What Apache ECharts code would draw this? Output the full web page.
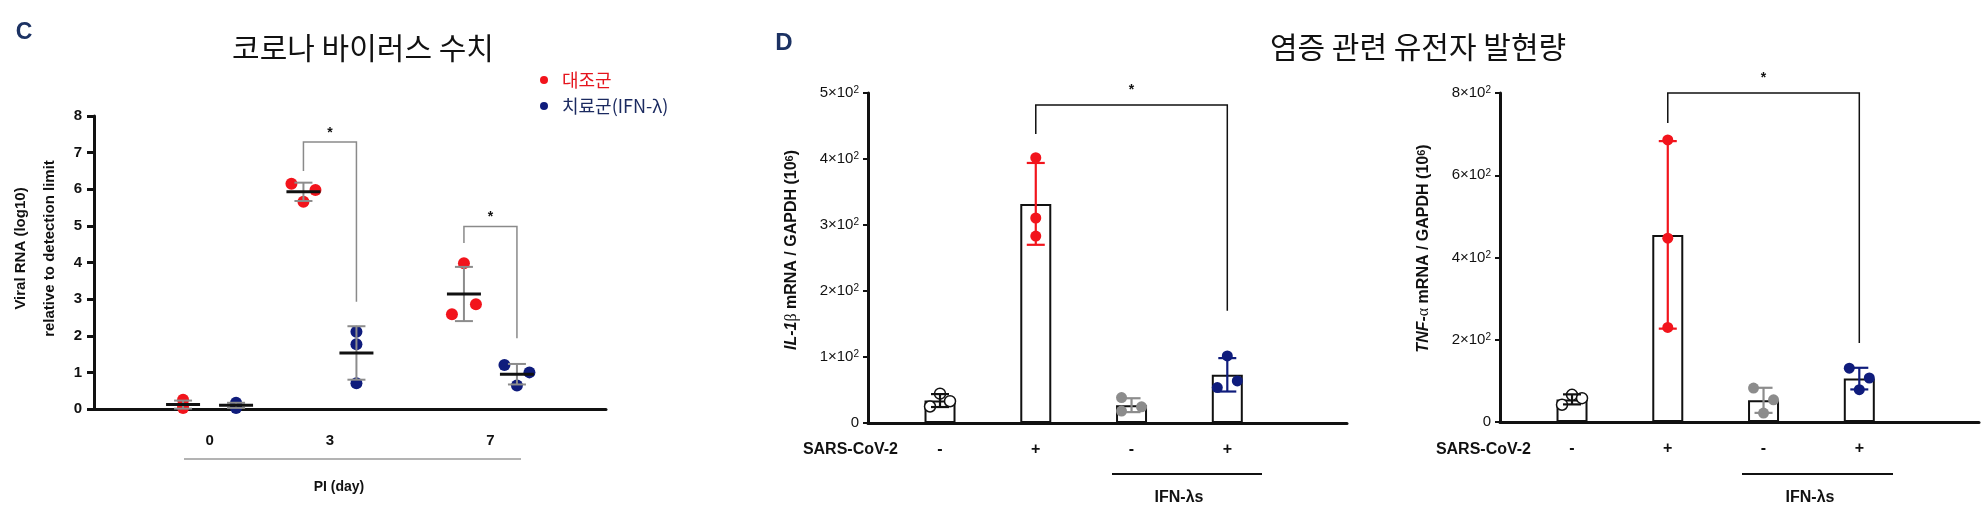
<!DOCTYPE html>
<html><head><meta charset="utf-8">
<script src="https://cdn.jsdelivr.net/npm/echarts@6/dist/echarts.min.js"></script>
<style>html,body{margin:0;padding:0;background:#fff}#chart{width:1986px;height:517px}</style>
</head><body><div id="chart"></div>
<script>
// ================= DATA =================
// Panel C: viral RNA (log10) by day post infection
const cDays = [0, 3, 7];
const cDayLabels = ['0', '3', '7'];
const ctrlName = '대조군';
const trtName = '치료군(IFN-λ)';
const ctrlPoints = [[0.25, 0.10, 0.03], [6.15, 5.66, 5.98], [2.59, 3.98, 2.86]];
const ctrlMean = [0.12, 5.93, 3.14];
const ctrlSD = [0.11, 0.25, 0.74];
const trtPoints = [[0.17, 0.10, 0.03], [2.11, 1.77, 0.70], [1.20, 0.64, 1.00]];
const trtMean = [0.10, 1.53, 0.95];
const trtSD = [0.07, 0.73, 0.28];
// significance brackets (day, top, end above control, end above treated)
const cBracketDays = [3, 7];
const cBracketTop = [7.29, 4.98];
const cBracketCtrlEnd = [6.5, 4.53];
const cBracketTrtEnd = [2.93, 1.93];

// Panel D: gene expression (x10^6 relative to GAPDH)
const dGroups = [0, 1, 2, 3];
const sarsSigns = ['-', '+', '-', '+'];
const il1bPoints = [[25, 44.5, 33], [402, 310.6, 283.3], [38.5, 18, 24.5], [101.7, 53.7, 63.7]];
const il1bMean = [34, 332, 27, 73];
const il1bSD = [9.8, 62, 10.5, 25.3];
const il1bBracket = [1, 3, 482, 438, 170];
const tnfPoints = [[42, 66, 58], [686, 447, 230], [82.6, 54, 21.6], [131, 107, 78.5]];
const tnfMean = [55, 455, 52.7, 105.5];
const tnfSD = [12.2, 228, 30.5, 26.3];
const tnfBracket = [1, 3, 800, 727, 192];

// ================= STYLE / LAYOUT =================
const FONT = "'Liberation Sans', Arial, Helvetica, sans-serif";
const KFONT = "'Noto Sans CJK KR', 'Noto Sans', sans-serif";
const RED = '#f2141c', NAVY = '#0f1c7c', GRAY = '#8c8c8c', BLACK = '#111111';
const C_GROUP_OFFSET = 26.5; // px, side-by-side groups in panel C
const C_JIT_CTRL = [[0, 0, 0], [-12, 0, 12], [-12, 0, 12]];
const C_JIT_TRT = [[0, 0, 0], [0, 0, 0], [-12.5, 0, 12.5]];
const D1_JIT = [[-10, 0, 10], [0, 0, 0], [-10, -10, 10], [0, -10, 10]];
const D2_JIT = [[-10, 0, 10], [0, 0, 0], [-10, 10, 0], [-10, 10, 0]];
const DOT_STYLES = [
  {color: '#ffffff', borderColor: BLACK, borderWidth: 1.5, opacity: 1},
  {color: RED, opacity: 1}, {color: GRAY, opacity: 1}, {color: NAVY, opacity: 1}
];
const ERR_COLORS = [BLACK, RED, GRAY, NAVY];

function line(x1, y1, x2, y2, stroke, w) {
  return {type: 'line', shape: {x1, y1, x2, y2}, style: {stroke, lineWidth: w}};
}

// ---------- Panel C series ----------
function cScatter(name, points, offset, jit, color) {
  const data = [];
  points.forEach((grp, i) => grp.forEach((v, j) => {
    data.push({value: [cDays[i], v], symbolOffset: [offset + jit[i][j], 0]});
  }));
  return {type: 'scatter', name, xAxisIndex: 0, yAxisIndex: 0, data, symbolSize: 12,
    itemStyle: {color, opacity: 1}, z: 3, silent: true};
}
function cErr(means, sds, offset) {
  return {type: 'custom', xAxisIndex: 0, yAxisIndex: 0, z: 4, silent: true,
    data: means.map((m, i) => [cDays[i], m, sds[i]]),
    encode: {x: 0, y: 1},
    renderItem: (p, api) => {
      const x = api.value(0), m = api.value(1), s = api.value(2);
      const pm = api.coord([x, m]), pt = api.coord([x, m + s]), pb = api.coord([x, m - s]);
      const cx = pm[0] + offset;
      return {type: 'group', children: [
        line(cx, pt[1], cx, pb[1], GRAY, 2),
        line(cx - 9, pt[1], cx + 9, pt[1], GRAY, 2),
        line(cx - 9, pb[1], cx + 9, pb[1], GRAY, 2),
        line(cx - 17, pm[1], cx + 17, pm[1], BLACK, 3)
      ]};
    }};
}
const cBrackets = {type: 'custom', xAxisIndex: 0, yAxisIndex: 0, z: 4, silent: true,
  data: cBracketDays.map((d, i) => [d, cBracketTop[i], cBracketCtrlEnd[i], cBracketTrtEnd[i]]),
  encode: {x: 0, y: [1, 2, 3]},
  renderItem: (p, api) => {
    const d = api.value(0);
    const pt = api.coord([d, api.value(1)]);
    const yl = api.coord([d, api.value(2)])[1];
    const yr = api.coord([d, api.value(3)])[1];
    const xl = pt[0] - C_GROUP_OFFSET, xr = pt[0] + C_GROUP_OFFSET;
    return {type: 'group', children: [
      {type: 'polyline', shape: {points: [[xl, yl], [xl, pt[1]], [xr, pt[1]], [xr, yr]]},
        style: {stroke: '#8a8a8a', lineWidth: 1.5, fill: null}},
      {type: 'text', x: (xl + xr) / 2, y: pt[1] - 9,
        style: {text: '*', font: 'bold 14px ' + FONT, fill: BLACK, textAlign: 'center', textVerticalAlign: 'middle'}}
    ]};
  }};

// ---------- Panel D series ----------
function dSeries(ai, points, means, sds, jit, bracket) {
  const dots = [];
  points.forEach((grp, i) => grp.forEach((v, j) => {
    dots.push({value: [dGroups[i], v], symbolOffset: [jit[i][j], 0], itemStyle: DOT_STYLES[i]});
  }));
  return [
    {type: 'bar', xAxisIndex: ai, yAxisIndex: ai, silent: true, z: 2, barWidth: 31,
      data: means.map((m, i) => [dGroups[i], m]),
      itemStyle: {color: '#ffffff', borderColor: BLACK, borderWidth: 2, opacity: 1}},
    {type: 'scatter', xAxisIndex: ai, yAxisIndex: ai, silent: true, z: 3, symbolSize: 11,
      itemStyle: {opacity: 1}, data: dots},
    {type: 'custom', xAxisIndex: ai, yAxisIndex: ai, z: 4, silent: true,
      data: means.map((m, i) => [dGroups[i], m, sds[i]]),
      encode: {x: 0, y: 1},
      renderItem: (p, api) => {
        const c = ERR_COLORS[p.dataIndex];
        const x = api.value(0), m = api.value(1), s = api.value(2);
        const pt = api.coord([x, m + s]), pb = api.coord([x, m - s]);
        const cx = pt[0];
        return {type: 'group', children: [
          line(cx, pt[1], cx, pb[1], c, 2.2),
          line(cx - 9, pt[1], cx + 9, pt[1], c, 2.2),
          line(cx - 9, pb[1], cx + 9, pb[1], c, 2.2)
        ]};
      }},
    {type: 'custom', xAxisIndex: ai, yAxisIndex: ai, z: 4, silent: true,
      data: [bracket], encode: {x: [0, 1], y: [2, 3, 4]},
      renderItem: (p, api) => {
        const pa = api.coord([api.value(0), api.value(2)]);
        const pb = api.coord([api.value(1), api.value(2)]);
        const ya = api.coord([api.value(0), api.value(3)])[1];
        const yb = api.coord([api.value(1), api.value(4)])[1];
        return {type: 'group', children: [
          {type: 'polyline', shape: {points: [[pa[0], ya], [pa[0], pa[1]], [pb[0], pb[1]], [pb[0], yb]]},
            style: {stroke: BLACK, lineWidth: 1.5, fill: null}},
          {type: 'text', x: (pa[0] + pb[0]) / 2, y: pa[1] - 15,
            style: {text: '*', font: 'bold 14px ' + FONT, fill: BLACK, textAlign: 'center', textVerticalAlign: 'middle'}}
        ]};
      }}
  ];
}

// ---------- Axes ----------
const axisLineStyle = {show: true, onZero: false, lineStyle: {color: BLACK, width: 3}};
function dYAxis(gi, max, interval, nameRich, shiftUp) {
  return {type: 'value', gridIndex: gi, min: 0, max, interval,
    axisLine: axisLineStyle, splitLine: {show: false},
    axisTick: {show: true, length: 5, lineStyle: {color: BLACK, width: 2}},
    axisLabel: {margin: 9, color: BLACK,
      formatter: v => v === 0 ? '{n|0}' : '{n|' + (v / 100) + '×10}{s|2}',
      rich: {n: {fontSize: 15, fontFamily: FONT, color: BLACK},
             s: {fontSize: 10, fontFamily: FONT, color: BLACK, verticalAlign: 'top'}}},
    name: nameRich, nameLocation: 'middle', nameRotate: 90, nameGap: 68,
    nameTextStyle: {padding: [0, 0, 0, shiftUp * 2], rich: {
      i: {fontSize: 16, fontStyle: 'italic', fontWeight: 'bold', fontFamily: FONT, color: BLACK},
      g: {fontSize: 16, fontFamily: "'Liberation Serif', serif", color: BLACK},
      b: {fontSize: 16, fontWeight: 'bold', fontFamily: FONT, color: BLACK},
      s: {fontSize: 11, fontWeight: 'bold', fontFamily: FONT, color: BLACK, verticalAlign: 'top'}}}
  };
}
function dXAxis(gi) {
  return {type: 'value', gridIndex: gi, min: -0.752, max: 4.25,
    axisLine: axisLineStyle, axisTick: {show: false}, splitLine: {show: false},
    axisLabel: {customValues: dGroups, formatter: v => sarsSigns[dGroups.indexOf(v)],
      margin: 19, fontSize: 16, fontWeight: 'bold', fontFamily: FONT, color: BLACK}};
}

const option = {
  animation: false,
  backgroundColor: '#ffffff',
  grid: [
    {left: 94, top: 116, width: 512, height: 293, outerBoundsMode: 'none'},
    {left: 868, top: 93, width: 479, height: 330, outerBoundsMode: 'none'},
    {left: 1500, top: 93, width: 479, height: 329, outerBoundsMode: 'none'}
  ],
  legend: {
    data: [{name: ctrlName, textStyle: {color: '#e5141d'}}, {name: trtName, textStyle: {color: '#1b2a60'}}],
    orient: 'vertical', left: 540, top: 71, itemWidth: 26, itemHeight: 8, itemGap: 8,
    icon: 'circle', selectedMode: false, padding: 0,
    textStyle: {fontSize: 18, fontFamily: KFONT}
  },
  xAxis: [
    {type: 'value', gridIndex: 0, min: -2.88, max: 9.88,
      axisLine: axisLineStyle, axisTick: {show: false}, splitLine: {show: false},
      axisLabel: {customValues: cDays, formatter: v => cDayLabels[cDays.indexOf(v)],
        margin: 24, fontSize: 15, fontWeight: 'bold', fontFamily: FONT, color: BLACK}},
    dXAxis(1), dXAxis(2)
  ],
  yAxis: [
    {type: 'value', gridIndex: 0, min: 0, max: 8, interval: 1,
      axisLine: axisLineStyle, splitLine: {show: false},
      axisTick: {show: true, length: 7, lineStyle: {color: BLACK, width: 3}},
      axisLabel: {margin: 12, fontSize: 15, fontWeight: 'bold', fontFamily: FONT, color: BLACK},
      name: 'Viral RNA (log10)\nrelative to detection limit', nameLocation: 'middle', nameRotate: 90, nameGap: 30,
      nameTextStyle: {fontSize: 15, fontWeight: 'bold', fontFamily: FONT, color: BLACK, lineHeight: 29,
        padding: [0, 0, 0, 28]}},
    dYAxis(1, 500, 100, '{i|IL-1}{g|β}{b| mRNA / GAPDH (10}{s|6}{b|)}', 8),
    dYAxis(2, 800, 200, '{i|TNF-}{g|α}{b| mRNA / GAPDH (10}{s|6}{b|)}', 9)
  ],
  series: [
    cScatter(ctrlName, ctrlPoints, -C_GROUP_OFFSET, C_JIT_CTRL, RED),
    cScatter(trtName, trtPoints, C_GROUP_OFFSET, C_JIT_TRT, NAVY),
    cErr(ctrlMean, ctrlSD, -C_GROUP_OFFSET),
    cErr(trtMean, trtSD, C_GROUP_OFFSET),
    cBrackets,
    ...dSeries(1, il1bPoints, il1bMean, il1bSD, D1_JIT, il1bBracket),
    ...dSeries(2, tnfPoints, tnfMean, tnfSD, D2_JIT, tnfBracket)
  ],
  graphic: [
    {type: 'text', x: 24, y: 33, style: {text: 'C', font: 'bold 23px ' + FONT, fill: '#1c3263', textAlign: 'center', textVerticalAlign: 'middle'}},
    {type: 'text', x: 784, y: 43, style: {text: 'D', font: 'bold 24px ' + FONT, fill: '#1c3263', textAlign: 'center', textVerticalAlign: 'middle'}},
    {type: 'text', x: 363, y: 48, style: {text: '코로나 바이러스 수치', font: '30px ' + KFONT, fill: '#111', textAlign: 'center', textVerticalAlign: 'middle'}},
    {type: 'text', x: 1418, y: 47, style: {text: '염증 관련 유전자 발현량', font: '30px ' + KFONT, fill: '#111', textAlign: 'center', textVerticalAlign: 'middle'}},
    {type: 'line', shape: {x1: 184, y1: 459, x2: 521, y2: 459}, style: {stroke: '#9a9a9a', lineWidth: 1.5}},
    {type: 'text', x: 339, y: 487, style: {text: 'PI (day)', font: 'bold 14px ' + FONT, fill: BLACK, textAlign: 'center', textVerticalAlign: 'middle'}},
    {type: 'text', x: 898, y: 450, style: {text: 'SARS-CoV-2', font: 'bold 16px ' + FONT, fill: BLACK, textAlign: 'right', textVerticalAlign: 'middle'}},
    {type: 'text', x: 1531, y: 450, style: {text: 'SARS-CoV-2', font: 'bold 16px ' + FONT, fill: BLACK, textAlign: 'right', textVerticalAlign: 'middle'}},
    {type: 'line', shape: {x1: 1112, y1: 474, x2: 1262, y2: 474}, style: {stroke: BLACK, lineWidth: 2}},
    {type: 'line', shape: {x1: 1742, y1: 474, x2: 1893, y2: 474}, style: {stroke: BLACK, lineWidth: 2}},
    {type: 'text', x: 1179, y: 498, style: {text: 'IFN-λs', font: 'bold 16px ' + FONT, fill: BLACK, textAlign: 'center', textVerticalAlign: 'middle'}},
    {type: 'text', x: 1810, y: 498, style: {text: 'IFN-λs', font: 'bold 16px ' + FONT, fill: BLACK, textAlign: 'center', textVerticalAlign: 'middle'}}
  ]
};

const chart = echarts.init(document.getElementById('chart'), null, {renderer: 'canvas'});
chart.setOption(option);
</script>
</body></html>
